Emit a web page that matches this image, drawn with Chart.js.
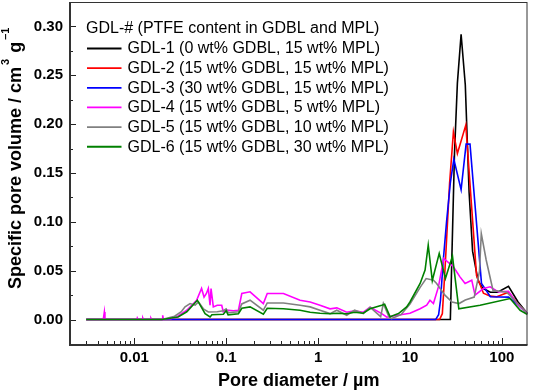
<!DOCTYPE html>
<html>
<head>
<meta charset="utf-8">
<script src="https://cdn.jsdelivr.net/npm/chart.js@4.4.1/dist/chart.umd.min.js"></script>
<style>
  html, body { margin: 0; padding: 0; background: #fff; }
  #wrap { width: 538px; height: 392px; }
</style>
</head>
<body>
<div id="wrap"><canvas id="chart" width="538" height="392"></canvas></div>
<script>
// Pore size distribution: [pore diameter (um), specific pore volume (cm3/g)]
const gdl1 = [
  [0.003, 0], [27.5, 0], [28.5, 0.06], [30.5, 0.17], [32.8, 0.242], [36, 0.292],
  [40, 0.24], [44, 0.13], [48, 0.07], [55, 0.04], [62, 0.032], [75, 0.028],
  [90, 0.028], [118, 0.034], [150, 0.018], [190, 0.006]
];
const gdl2 = [
  [0.003, 0], [21, 0], [22.5, 0.006], [24, 0.05], [27, 0.14], [29.7, 0.192],
  [32.8, 0.170], [40.5, 0.199], [53, 0.045], [63, 0.027], [75, 0.024], [88, 0.0234],
  [118, 0.028], [150, 0.016], [190, 0.006]
];
const gdl3 = [
  [0.003, 0], [19, 0], [20.5, 0.005], [21.5, 0.02], [23, 0.06], [25, 0.10],
  [27.5, 0.14], [30, 0.164], [36, 0.133], [40.8, 0.1795], [45, 0.1795], [60, 0.037],
  [75, 0.0234], [118, 0.023], [150, 0.015], [190, 0.006]
];
const gdl4 = [
  [0.003, 0], [0.0046, 0], [0.00473, 0.0078], [0.0048, 0], [0.0107, 0], [0.0108, 0.0015],
  [0.011, 0], [0.0123, 0], [0.0124, 0.0015], [0.0126, 0], [0.015, 0], [0.0152, 0.0015],
  [0.0155, 0], [0.0201, 0], [0.0204, 0.0044], [0.0207, 0.001], [0.025, 0.0008],
  [0.029, 0.0027], [0.0373, 0.0096], [0.0477, 0.0198], [0.054, 0.0318], [0.0575, 0.023],
  [0.061, 0.0267], [0.064, 0.0318], [0.0668, 0.0147], [0.0685, 0.0318], [0.0725, 0.013],
  [0.08, 0.0147], [0.0895, 0.0147], [0.093, 0.008], [0.1, 0.0096], [0.12, 0.009],
  [0.136, 0.0096], [0.148, 0.0267], [0.182, 0.0284], [0.254, 0.0164], [0.28, 0.0267],
  [0.42, 0.0267], [0.637, 0.0198], [0.82, 0.018], [1.05, 0.0147], [1.35, 0.011],
  [1.6, 0.012], [2.05, 0.0075], [2.5, 0.009], [3.11, 0.0075], [3.68, 0.0126],
  [4.93, 0.0061], [5.6, 0.0024], [6.7, 0.004], [10, 0.0065], [12.9, 0.011],
  [15.2, 0.0147], [16.5, 0.0198], [18, 0.0164], [20.4, 0.0334], [23.3, 0.0625],
  [29.7, 0.054], [35, 0.0437], [39.8, 0.037], [47, 0.0403], [51, 0.025], [63, 0.0318],
  [74.5, 0.0336], [91.6, 0.0283], [118, 0.029], [150, 0.015], [190, 0.006]
];
const gdl5 = [
  [0.003, 0], [0.02, 0], [0.0275, 0.0034], [0.0325, 0.008], [0.0357, 0.013],
  [0.0405, 0.0164], [0.046, 0.0147], [0.05, 0.018], [0.0565, 0.011], [0.064, 0.0078],
  [0.08, 0.008], [0.093, 0.009], [0.1, 0.011], [0.105, 0.007], [0.136, 0.008],
  [0.148, 0.016], [0.182, 0.0198], [0.254, 0.0096], [0.28, 0.017], [0.42, 0.017],
  [0.637, 0.0147], [0.82, 0.013], [1.05, 0.0096], [1.35, 0.0061], [1.6, 0.0096],
  [2.05, 0.0044], [2.5, 0.0096], [3.11, 0.0061], [3.68, 0.0126], [4.8, 0.003],
  [5.13, 0.0164], [5.9, 0.003], [6.3, 0.001], [8, 0.005], [10, 0.016], [12.9, 0.033],
  [15, 0.042], [18, 0.0403], [19.5, 0.037], [24, 0.025], [28.7, 0.018], [34.2, 0.0164],
  [40, 0.02], [50, 0.023], [57, 0.049], [59.7, 0.088], [67.5, 0.061], [80, 0.030],
  [113, 0.028], [150, 0.016], [190, 0.006]
];
const gdl6 = [
  [0.003, 0], [0.02, 0], [0.03, 0.0027], [0.0373, 0.008], [0.0486, 0.0198],
  [0.059, 0.006], [0.0668, 0.0027], [0.07, 0.005], [0.0933, 0.0055], [0.1, 0.009],
  [0.105, 0.0048], [0.136, 0.006], [0.148, 0.0116], [0.182, 0.013], [0.254, 0.0055],
  [0.28, 0.0116], [0.42, 0.011], [0.637, 0.0096], [0.82, 0.0075], [1.05, 0.0065],
  [1.35, 0.006], [1.6, 0.0065], [2.05, 0.006], [2.5, 0.0075], [3.1, 0.0065],
  [3.68, 0.011], [4.93, 0.0147], [5.3, 0.0157], [6.07, 0.003], [7.5, 0.0061],
  [9.2, 0.013], [10, 0.018], [12.9, 0.037], [14.6, 0.0506], [15.8, 0.0762],
  [17.5, 0.04], [20.8, 0.0677], [24.3, 0.042], [29, 0.065], [34, 0.011],
  [57.9, 0.0147], [122.8, 0.0215], [158, 0.0095], [190, 0.005]
];

const seriesNames = [
  'GDL-1 (0 wt% GDBL, 15 wt% MPL)',
  'GDL-2 (15 wt% GDBL, 15 wt% MPL)',
  'GDL-3 (30 wt% GDBL, 15 wt% MPL)',
  'GDL-4 (15 wt% GDBL, 5 wt% MPL)',
  'GDL-5 (15 wt% GDBL, 10 wt% MPL)',
  'GDL-6 (15 wt% GDBL, 30 wt% MPL)'
];
const seriesColors = ['#000000', '#ff0000', '#0000ff', '#ff00ff', '#808080', '#008000'];
const legendTitle = 'GDL-# (PTFE content in GDBL and MPL)';

const xTickValues = [0.01, 0.1, 1, 10, 100];
const xTickLabels = ['0.01', '0.1', '1', '10', '100'];
const yTickValues = [0, 0.05, 0.10, 0.15, 0.20, 0.25, 0.30];
const yTickLabels = ['0.00', '0.05', '0.10', '0.15', '0.20', '0.25', '0.30'];

const FONT = "'Liberation Sans', Arial, sans-serif";
const allSeries = [gdl1, gdl2, gdl3, gdl4, gdl5, gdl6];

// Inward ticks + box frame
const frameTicks = {
  id: 'frameTicks',
  afterDatasetsDraw(chart) {
    const { ctx, chartArea: a, scales: { x, y } } = chart;
    ctx.save();
    ctx.strokeStyle = '#222';
    ctx.lineWidth = 1;
    ctx.beginPath();
    for (let k = -3; k <= 2; k++) {
      for (let m = 1; m <= 9; m++) {
        const v = m * Math.pow(10, k);
        if (v < x.min || v > x.max) continue;
        const px = Math.round(x.getPixelForValue(v)) + 0.5;
        const len = m === 1 ? 6 : 3;
        ctx.moveTo(px, a.bottom);
        ctx.lineTo(px, a.bottom - len);
      }
    }
    for (let i = -1; i <= 13; i++) {
      const v = i * 0.025;
      const py = Math.round(y.getPixelForValue(v)) + 0.5;
      if (py < a.top + 1 || py > a.bottom - 1) continue;
      const len = i % 2 === 0 ? 6 : 3;
      ctx.moveTo(a.left, py);
      ctx.lineTo(a.left + len, py);
    }
    ctx.stroke();

    ctx.lineWidth = 1;
    ctx.strokeStyle = '#333';
    ctx.strokeRect(a.left, a.top + 0.5, a.right - a.left - 0.5, a.bottom - a.top);
    ctx.lineWidth = 2;
    ctx.beginPath();
    ctx.moveTo(a.left, a.top);
    ctx.lineTo(a.left, a.bottom + 1);
    ctx.lineTo(a.right, a.bottom + 1);
    ctx.stroke();
    ctx.restore();
  }
};

// Legend drawn inside the plot, upper left
const insideLegend = {
  id: 'insideLegend',
  afterDraw(chart) {
    const ctx = chart.ctx;
    ctx.save();
    ctx.font = '16px ' + FONT;
    ctx.fillStyle = '#000';
    ctx.textBaseline = 'middle';
    ctx.fillText(legendTitle, 86, 29);
    chart.data.datasets.forEach((ds, i) => {
      const rowY = 48.5 + i * 19.65;
      ctx.strokeStyle = ds.borderColor;
      ctx.lineWidth = 1.8;
      ctx.beginPath();
      ctx.moveTo(87, rowY);
      ctx.lineTo(121.5, rowY);
      ctx.stroke();
      ctx.fillText(ds.label, 127.5, rowY + 0.5);
    });
    ctx.restore();
  }
};

// Rotated y-axis title with superscripts
const yTitle = {
  id: 'yTitle',
  afterDraw(chart) {
    const ctx = chart.ctx;
    ctx.save();
    ctx.translate(21, 289);
    ctx.rotate(-Math.PI / 2);
    ctx.fillStyle = '#000';
    ctx.textBaseline = 'alphabetic';
    let pos = 0;
    const parts = [
      { t: 'Specific pore volume / cm', size: 18, dy: 0, gap: 2 },
      { t: '3', size: 11, dy: -12.5, gap: 6 },
      { t: 'g', size: 18, dy: 0, gap: 2 },
      { t: '\u20131', size: 11, dy: -12.5, gap: 0 }
    ];
    parts.forEach(p => {
      ctx.font = 'bold ' + p.size + 'px ' + FONT;
      ctx.fillText(p.t, pos, p.dy);
      pos += ctx.measureText(p.t).width + p.gap;
    });
    ctx.restore();
  }
};

new Chart(document.getElementById('chart'), {
  type: 'line',
  data: {
    datasets: allSeries.map((s, i) => ({
      label: seriesNames[i],
      data: s.map(p => ({ x: p[0], y: p[1] })),
      borderColor: seriesColors[i],
      borderWidth: 1.6,
      pointRadius: 0,
      tension: 0,
      fill: false,
      order: allSeries.length - i
    }))
  },
  options: {
    responsive: false,
    animation: false,
    devicePixelRatio: 1,
    layout: { padding: { top: 2, right: 10.5, bottom: 0, left: 0 } },
    plugins: {
      legend: { display: false },
      tooltip: { enabled: false }
    },
    scales: {
      x: {
        type: 'logarithmic',
        min: 0.002,
        max: 190,
        afterBuildTicks: axis => { axis.ticks = xTickValues.map(v => ({ value: v })); },
        afterFit: axis => { axis.height = 48; axis.paddingLeft = 0; axis.paddingRight = 0; },
        grid: { display: false, drawTicks: false },
        border: { display: false },
        ticks: {
          autoSkip: false,
          maxRotation: 0,
          padding: 5,
          color: '#000',
          font: { family: FONT, size: 15, weight: 'bold' },
          callback: (v, i) => xTickLabels[i]
        },
        title: {
          display: true,
          text: 'Pore diameter / \u00b5m',
          color: '#000',
          padding: { top: 0, bottom: 0 },
          font: { family: FONT, size: 18, weight: 'bold', lineHeight: 1.2 }
        }
      },
      y: {
        type: 'linear',
        min: -0.025,
        max: 0.325,
        afterBuildTicks: axis => { axis.ticks = yTickValues.map(v => ({ value: v })); },
        afterFit: axis => { axis.width = 70; axis.paddingTop = 0; axis.paddingBottom = 0; },
        grid: { display: false, drawTicks: false },
        border: { display: false },
        ticks: {
          padding: 7,
          color: '#000',
          font: { family: FONT, size: 15, weight: 'bold' },
          callback: (v, i) => yTickLabels[i]
        }
      }
    }
  },
  plugins: [frameTicks, insideLegend, yTitle]
});
</script>
</body>
</html>
